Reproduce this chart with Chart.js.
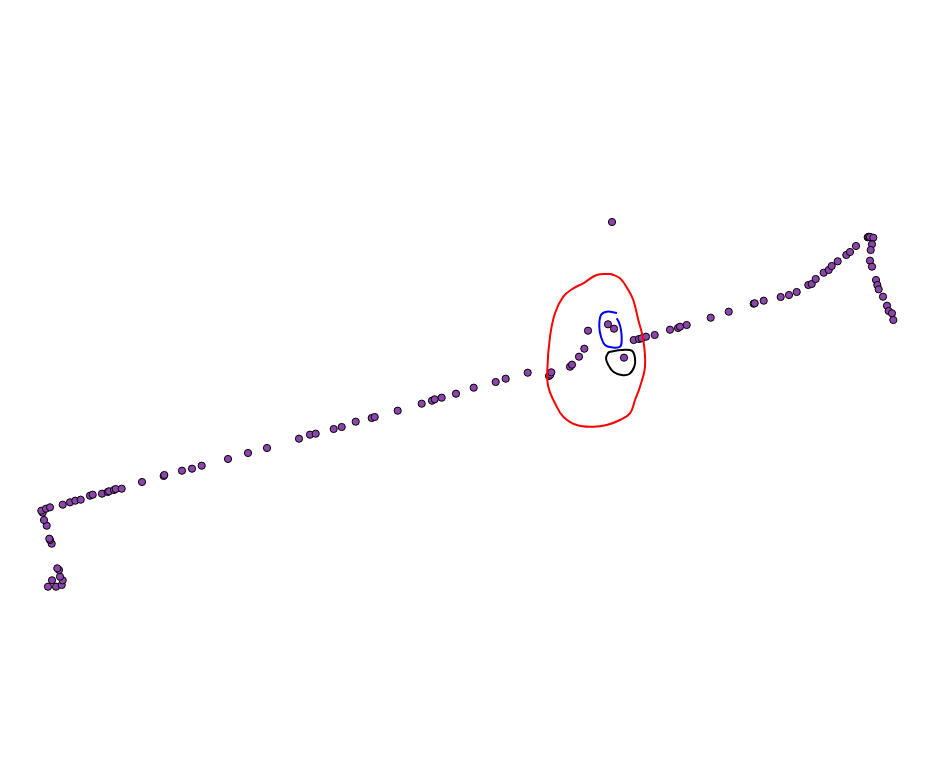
<!DOCTYPE html>
<html>
<head>
<meta charset="utf-8">
<script src="https://cdn.jsdelivr.net/npm/chart.js@4"></script>
<style>
html,body{margin:0;padding:0;background:#fff;}
#c{display:block;}
</style>
</head>
<body>
<canvas id="c" width="928" height="775"></canvas>
<script>
// Point series (data units)
const pointX = [
  48,56,61.7,62.7,52,60,59,57.3,51.7,50,49.3,46.7,44,42.7,41.3,46,50,62.7,70,75.3,80.7,90,92.7,102,107.7,109,114,115.7,121.7,142,163.7,164.3,182,192,201.7,228,248,267,
  299,310,315.7,333.7,341.7,355.7,371.7,374.7,397.7,421.7,432,434.7,441.7,456,473.7,495.7,505.7,527.7,
  549,550.3,551.3,570,572,579,584.3,588,608,614,624,612,
  633.7,639,641.7,646,654.7,670,678,680,686.7,710.7,728.7,753.7,754.7,763.7,780.7,789,796.7,
  808.3,811.7,815.7,823.7,828.7,831.7,837.7,846.3,850,856,867.7,868.7,870,873.3,872,870.7,870,872,
  876,877.3,878.7,883,887,888.7,892,893.3
];
const pointY = [
  586.7,586.7,585,580.3,580.3,576.7,570,568.3,543.7,540,538.7,525.7,520,512.7,510.7,508.7,507.3,504.7,502.3,500.7,499.7,495.7,494.7,493.7,492,491.3,490,489,488.7,482,476,475,470.7,468.7,465.7,459,453,448,
  438.7,434.7,433.7,429,427,421.7,418,417,410.7,403.7,400.7,399.3,397.7,393.7,387.7,382,378.7,372.7,
  376,374.7,372.3,366.7,364.7,356.7,348.7,330.7,324.3,328.7,357.7,222,
  340,339,338.3,336.7,335,329.7,328,326.7,325,317.7,311.7,303.7,303.3,300.7,297,295,292,
  285,284,279,272.7,270,266,261.3,255,252,246,237.3,236.7,237,237.7,244.3,250,260.7,266.7,
  280,285,289.3,296.7,305.7,311,313.3,320
];
// Hand-drawn annotation loops
const redX = [611,596.7,583.3,573.3,563.3,555,550,547.3,548.3,555,563.3,576.7,593.3,606.7,620,630,635,640,645,643.3,638.3,633.3,628.3,620,611];
const redY = [274,275,283.3,288.3,296.7,313.3,336.7,370,386.7,403.3,416.7,425,426.7,425,420,413.3,400,386.7,366.7,340,320,300,290,278.3,274];
const blueX = [617,606.7,601,599.3,601,605,611.7,620,621.7,621,619.3,616.7];
const blueY = [313,311.7,315,326.7,336.7,345,347.3,346.7,340,330,323.3,318.3];
const blackX = [610,621.7,631.7,635,634.3,629.3,621.7,613.3,608.3,606,608.3,610];
const blackY = [351.7,350,350.7,358.3,366.7,374,375,371.7,365,358.3,352.7,351.7];

const zip = (xs, ys) => xs.map((x, i) => ({x: x, y: ys[i]}));
const loop = (xs, ys, color) => ({
  type: 'line', data: zip(xs, ys), borderColor: color, borderWidth: 2,
  pointRadius: 0, tension: 0.4, fill: false, showLine: true
});

new Chart(document.getElementById('c'), {
  type: 'scatter',
  data: {
    datasets: [
      loop(redX, redY, '#ff0000'),
      loop(blueX, blueY, '#0000ff'),
      loop(blackX, blackY, '#000000'),
      {
        data: zip(pointX, pointY),
        backgroundColor: '#8e44ad',
        borderColor: '#000000',
        borderWidth: 1,
        pointRadius: 3.6,
        pointHoverRadius: 3.6
      }
    ]
  },
  options: {
    responsive: false,
    animation: false,
    layout: {padding: 0, autoPadding: false},
    plugins: {legend: {display: false}, tooltip: {enabled: false}},
    scales: {
      x: {type: 'linear', min: 0, max: 928, display: false},
      y: {type: 'linear', min: 0, max: 775, reverse: true, display: false}
    }
  }
});
</script>
</body>
</html>
